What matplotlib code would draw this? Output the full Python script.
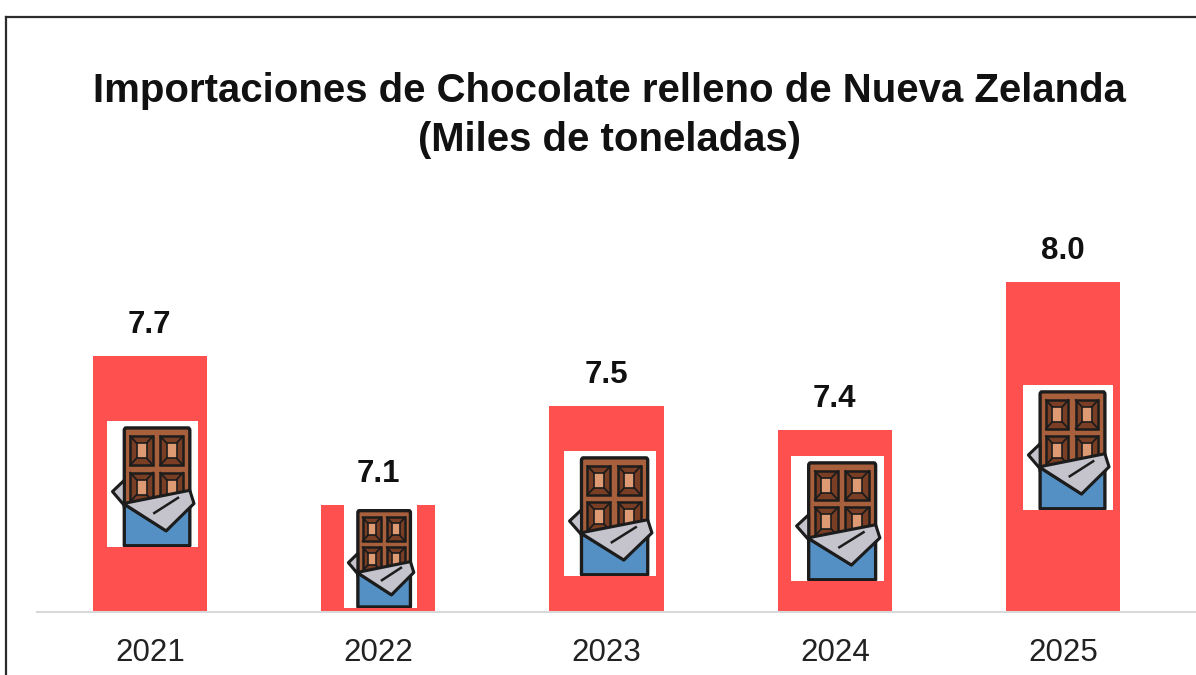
import matplotlib
matplotlib.use("Agg")
import matplotlib.pyplot as plt
from matplotlib.patches import Polygon, Rectangle, FancyBboxPatch

years = ["2021", "2022", "2023", "2024", "2025"]
valores = [7.7, 7.1, 7.5, 7.4, 8.0]

W, H = 1196, 675
RED = "#FF5050"

plt.rcParams["font.family"] = ["Liberation Sans", "DejaVu Sans"]

fig = plt.figure(figsize=[W / 100, H / 100], dpi=100)
fig.patch.set_facecolor("white")


def px_axes(left, top, right, bottom, **kw):
    # axes placed with pixel edges measured from the top left corner
    return fig.add_axes([left / W, 1 - bottom / H, (right - left) / W, (bottom - top) / H], **kw)


# outer chart frame, runs off the right and bottom edges
fig.add_artist(plt.Line2D([5.5 / W, 5.5 / W], [0, 1 - 16.5 / H], color="#2b2b2b", lw=1.6))
fig.add_artist(plt.Line2D([5.5 / W, 1], [1 - 16.5 / H, 1 - 16.5 / H], color="#2b2b2b", lw=1.6))

ax = px_axes(37, 200, 1196, 611.5)
ax.bar(range(len(years)), valores, width=0.5, color=RED, zorder=2)
ax.set_xlim(-0.494, 4.582)
ax.set_ylim(6.671, 6.671 + 411.5 / 248.3)
for i, v in enumerate(valores):
    ax.annotate(f"{v:.1f}", (i, v), xytext=(0, 16), textcoords="offset pixels", ha="center",
                va="bottom", fontsize=22.5, fontweight="bold", color="#111111")
ax.set_xticks(range(len(years)))
ax.set_xticklabels(years, fontsize=22.5, color="#222222")
ax.tick_params(axis="x", length=0, pad=19)
ax.set_yticks([])
for s in ["top", "left", "right"]:
    ax.spines[s].set_visible(False)
ax.spines["bottom"].set_color("#D9D9D9")
ax.spines["bottom"].set_linewidth(1.5)

fig.text(609 / W, 1 - 91 / H, "Importaciones de Chocolate relleno de Nueva Zelanda",
         ha="center", va="center", fontsize=28.9, fontweight="bold", color="#111111")
fig.text(609 / W, 1 - 140 / H, "(Miles de toneladas)",
         ha="center", va="center", fontsize=28.9, fontweight="bold", color="#111111")


def chocolate_icon(left, top, right, bottom):
    # white tile with a wrapped chocolate bar, drawn in unit coordinates
    a = px_axes(left, top, right, bottom, zorder=5)
    a.set_xlim(0, 1)
    a.set_ylim(0, 1)
    a.axis("off")
    a.add_patch(Rectangle((0, 0), 1, 1, fc="white", ec="none"))
    dark = "#1c1c1c"
    # bar body
    a.add_patch(FancyBboxPatch((0.19, 0.3), 0.72, 0.645, boxstyle="round,pad=0,rounding_size=0.02",
                               fc="#A85F3C", ec=dark, lw=2.4))
    # squares with a bevelled middle
    for cx in [0.38, 0.71]:
        for cy in [0.765, 0.475]:
            a.add_patch(Rectangle((cx - 0.125, cy - 0.115), 0.25, 0.23, fc="#7A3E24", ec=dark, lw=1.8))
            for dx in [-1, 1]:
                for dy in [-1, 1]:
                    a.plot([cx + dx * 0.125, cx + dx * 0.055], [cy + dy * 0.115, cy + dy * 0.06],
                           color=dark, lw=1.3, zorder=2)
            a.add_patch(Rectangle((cx - 0.055, cy - 0.06), 0.11, 0.12, fc="#DE9A72", ec=dark, lw=1.2, zorder=2.5))
    # blue wrapper
    a.add_patch(Polygon([(0.19, 0.34), (0.19, 0.01), (0.91, 0.01), (0.91, 0.34), (0.65, 0.13)],
                        closed=True, fc="#5490C4", ec=dark, lw=2.4, joinstyle="round", zorder=3))
    # silver foil
    a.add_patch(Polygon([(0.19, 0.53), (0.06, 0.44), (0.19, 0.33)], closed=True, fc="#C5C3CC", ec=dark,
                        lw=2.2, joinstyle="round", zorder=3))
    a.add_patch(Polygon([(0.18, 0.345), (0.91, 0.45), (0.956, 0.345), (0.65, 0.128)],
                        closed=True, fc="#C5C3CC", ec=dark, lw=2.2, joinstyle="round", zorder=3))
    a.plot([0.52, 0.78], [0.27, 0.39], color=dark, lw=1.8, zorder=4)


chocolate_icon(107, 421, 198, 547)
chocolate_icon(344, 505, 417, 608)
chocolate_icon(564, 451, 656, 576)
chocolate_icon(791, 456, 884, 581)
chocolate_icon(1023, 385, 1113, 510)

fig.savefig("out.png", dpi=100)
